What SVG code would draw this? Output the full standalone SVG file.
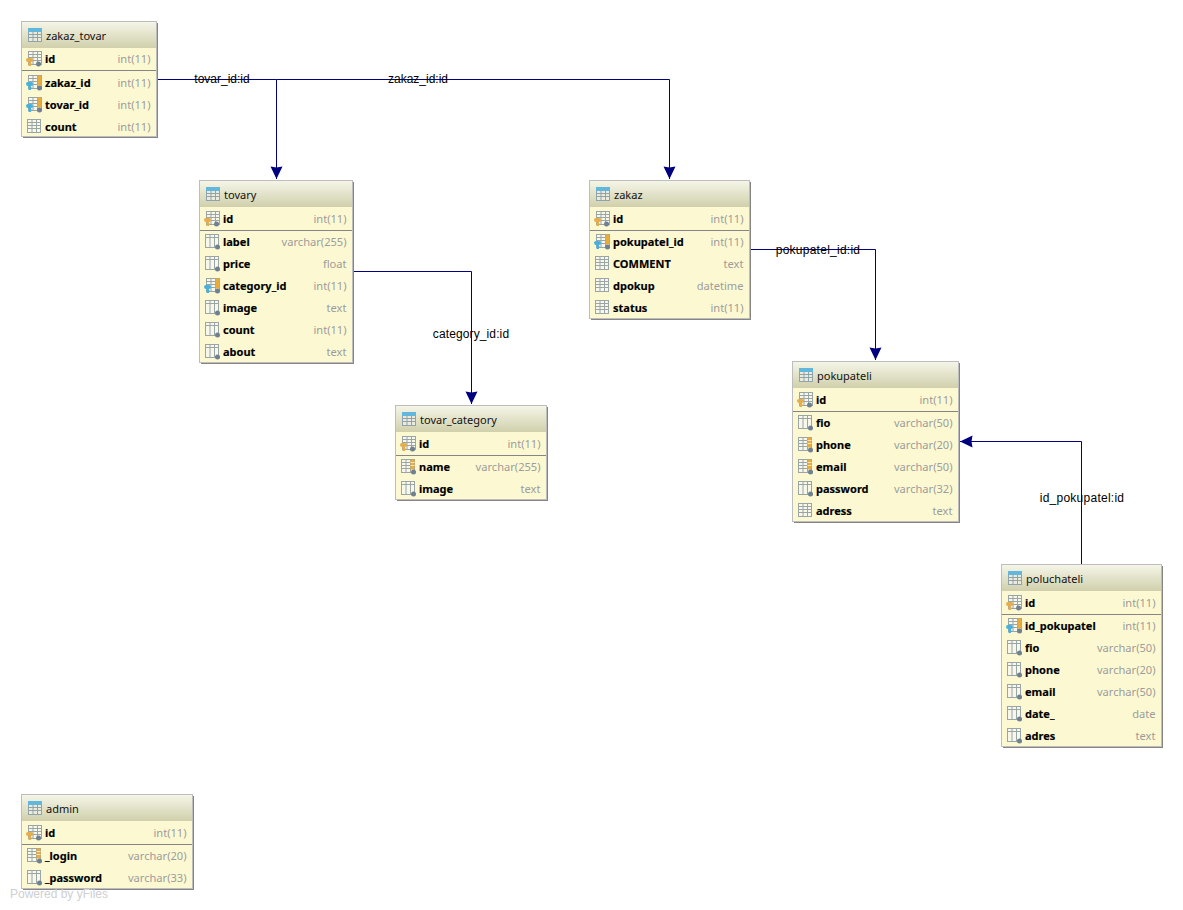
<svg xmlns="http://www.w3.org/2000/svg" width="1183" height="910" viewBox="0 0 1183 910">
<style>
text{font-family:"Noto Sans","DejaVu Sans",sans-serif;font-size:11px}
.box{fill:#fcf9d2;stroke:#bdbdbd;stroke-width:1}
.shadow{fill:#858585}
.head{fill:url(#headGrad)}
.sep{stroke:#858585;stroke-width:1}
.title{fill:#111;font-size:11px}
.col{fill:#000;font-weight:700;stroke:#000;stroke-width:.15}
.type{fill:#9c9c9c;text-anchor:end;font-size:11.1px}
.edge{fill:none;stroke:#000080;stroke-width:1;marker-end:url(#arrow)}
.plain{fill:none;stroke:#000080;stroke-width:1}
.lbl{font-family:"Liberation Sans",Arial,sans-serif;font-size:12px;fill:#000;text-anchor:middle}
.wide{letter-spacing:.25px}
.mid{letter-spacing:.12px}
.brand{font-family:"Liberation Sans",Arial,sans-serif;font-size:12px;fill:#cfcfcf}
</style>
<defs>
<linearGradient id="headGrad" x1="0" y1="0" x2="0" y2="1"><stop offset="0" stop-color="#f5f5e8"/><stop offset="1" stop-color="#d0d0ac"/></linearGradient>
<marker id="arrow" markerUnits="userSpaceOnUse" markerWidth="14" markerHeight="14" refX="13" refY="7" orient="auto"><path d="M0.5 1L13 7L0.5 13L1.5 7Z" fill="#000080"/></marker>
<!-- column grid, origin at the row centre-left -->
<g id="grid"><rect x="0.5" y="-7.5" width="13" height="13" fill="#f8f8ea" stroke="#9aa5a6"/><path d="M0.5 -4.5H13.5M0.5 -1.5H13.5M0.5 1.5H13.5M5 -7.5V5.5M9.5 -7.5V5.5" stroke="#9aa5a6" fill="none"/></g>
<g id="gridOpen"><rect x="0.5" y="-7.5" width="13" height="13" fill="#f8f8ea" stroke="#9aa5a6"/><path d="M0.5 -4.5H13.5M5 -7.5V5.5M9.5 -7.5V5.5" stroke="#9aa5a6" fill="none"/></g>
<g id="gridHead"><rect x="0.5" y="-6.5" width="13" height="13" fill="#eceadb" stroke="#8fa3ab"/><rect x="0" y="-7" width="14" height="4" fill="#62b8dc"/><path d="M0.5 -0.5H13.5M0.5 2.5H13.5M5 -3V6.5M9.5 -3V6.5" stroke="#8fa3ab" fill="none"/></g>
<circle id="dot" cx="12.5" cy="5" r="2.5" fill="#6f8090"/>
<path id="keyShape" d="M0 0.5Q0 -1 2 -1H5Q7 -1 7 1Q7 3 5 3V4.5H6V5.5H5V7H2.5V3H2Q0 3 0 0.5Z"/>
<g id="col"><use href="#gridOpen"/><use href="#dot"/></g>
<g id="idx"><use href="#grid"/><rect x="9.5" y="-7.5" width="4" height="10" fill="#e8ab3c"/><path d="M9.5 -4.5H13.5M9.5 -1.5H13.5" stroke="#fbe8b8"/><use href="#dot"/></g>
<g id="pk"><use href="#grid" x="2"/><use href="#keyShape" fill="#e6ad4c"/><use href="#dot"/></g>
<g id="fk"><use href="#grid" x="2"/><rect x="11.5" y="-7.5" width="4" height="10" fill="#e8ab3c"/><use href="#keyShape" fill="#48b0dc"/><use href="#dot" x="1"/></g>
</defs>
<rect width="1183" height="910" fill="#fff"/>

<g id="connectors">
<path class="plain" d="M157.5 79.5H276.5"/>
<path class="edge" d="M276.5 79.5V179"/>
<path class="edge" d="M276.5 79.5H669.5V179"/>
<path class="edge" d="M353.5 271.5H471.5V404"/>
<path class="edge" d="M750.5 249.5H875.5V360"/>
<path class="edge" d="M1081.5 564V441.5H960"/>
<text class="lbl" x="222" y="83">tovar_id:id</text>
<text class="lbl" x="418" y="83">zakaz_id:id</text>
<text class="lbl mid" x="471" y="338">category_id:id</text>
<text class="lbl wide" x="818" y="254">pokupatel_id:id</text>
<text class="lbl wide" x="1082" y="502">id_pokupatel:id</text>
</g>

<g id="zakaz_tovar">
<rect class="shadow" x="23" y="23" width="135" height="115"/>
<rect class="box" x="21.5" y="21.5" width="135" height="115"/>
<rect class="head" x="22" y="22" width="134" height="26"/>
<use href="#gridHead" x="28" y="35"/><text class="title" x="46" y="40">zakaz_tovar</text>
<use href="#pk" x="26" y="59"/><text class="col" x="45" y="63">id</text><text class="type" x="150.5" y="63">int(11)</text>
<line class="sep" x1="22" y1="70.5" x2="156" y2="70.5"/>
<use href="#fk" x="26" y="83"/><text class="col" x="45" y="87">zakaz_id</text><text class="type" x="150.5" y="87">int(11)</text>
<use href="#fk" x="26" y="105"/><text class="col" x="45" y="109">tovar_id</text><text class="type" x="150.5" y="109">int(11)</text>
<use href="#grid" x="27" y="127"/><text class="col" x="45" y="131">count</text><text class="type" x="150.5" y="131">int(11)</text>
</g>

<g id="tovary">
<rect class="shadow" x="201" y="182" width="153" height="182"/>
<rect class="box" x="199.5" y="180.5" width="153" height="182"/>
<rect class="head" x="200" y="181" width="152" height="26"/>
<use href="#gridHead" x="206" y="194"/><text class="title" x="224" y="199">tovary</text>
<use href="#pk" x="204" y="219"/><text class="col" x="223" y="223">id</text><text class="type" x="346.5" y="223">int(11)</text>
<line class="sep" x1="200" y1="230.5" x2="352" y2="230.5"/>
<use href="#col" x="205" y="242"/><text class="col" x="223" y="246">label</text><text class="type" x="346.5" y="246">varchar(255)</text>
<use href="#col" x="205" y="264"/><text class="col" x="223" y="268">price</text><text class="type" x="346.5" y="268">float</text>
<use href="#fk" x="204" y="286"/><text class="col" x="223" y="290">category_id</text><text class="type" x="346.5" y="290">int(11)</text>
<use href="#col" x="205" y="308"/><text class="col" x="223" y="312">image</text><text class="type" x="346.5" y="312">text</text>
<use href="#col" x="205" y="330"/><text class="col" x="223" y="334">count</text><text class="type" x="346.5" y="334">int(11)</text>
<use href="#col" x="205" y="352"/><text class="col" x="223" y="356">about</text><text class="type" x="346.5" y="356">text</text>
</g>

<g id="zakaz">
<rect class="shadow" x="591" y="182" width="160" height="138"/>
<rect class="box" x="589.5" y="180.5" width="160" height="138"/>
<rect class="head" x="590" y="181" width="159" height="26"/>
<use href="#gridHead" x="596" y="194"/><text class="title" x="614" y="199">zakaz</text>
<use href="#pk" x="594" y="219"/><text class="col" x="613" y="223">id</text><text class="type" x="743.5" y="223">int(11)</text>
<line class="sep" x1="590" y1="230.5" x2="749" y2="230.5"/>
<use href="#fk" x="594" y="242"/><text class="col" x="613" y="246">pokupatel_id</text><text class="type" x="743.5" y="246">int(11)</text>
<use href="#grid" x="595" y="264"/><text class="col" x="613" y="268">COMMENT</text><text class="type" x="743.5" y="268">text</text>
<use href="#grid" x="595" y="286"/><text class="col" x="613" y="290">dpokup</text><text class="type" x="743.5" y="290">datetime</text>
<use href="#grid" x="595" y="308"/><text class="col" x="613" y="312">status</text><text class="type" x="743.5" y="312">int(11)</text>
</g>

<g id="tovar_category">
<rect class="shadow" x="397" y="407" width="151" height="94"/>
<rect class="box" x="395.5" y="405.5" width="151" height="94"/>
<rect class="head" x="396" y="406" width="150" height="26"/>
<use href="#gridHead" x="402" y="419"/><text class="title" x="420" y="424">tovar_category</text>
<use href="#pk" x="400" y="444"/><text class="col" x="419" y="448">id</text><text class="type" x="540.5" y="448">int(11)</text>
<line class="sep" x1="396" y1="455.5" x2="546" y2="455.5"/>
<use href="#idx" x="401" y="467"/><text class="col" x="419" y="471">name</text><text class="type" x="540.5" y="471">varchar(255)</text>
<use href="#col" x="401" y="489"/><text class="col" x="419" y="493">image</text><text class="type" x="540.5" y="493">text</text>
</g>

<g id="pokupateli">
<rect class="shadow" x="794" y="363" width="166" height="160"/>
<rect class="box" x="792.5" y="361.5" width="166" height="160"/>
<rect class="head" x="793" y="362" width="165" height="26"/>
<use href="#gridHead" x="799" y="375"/><text class="title" x="817" y="380">pokupateli</text>
<use href="#pk" x="797" y="400"/><text class="col" x="816" y="404">id</text><text class="type" x="952.5" y="404">int(11)</text>
<line class="sep" x1="793" y1="411.5" x2="958" y2="411.5"/>
<use href="#col" x="798" y="423"/><text class="col" x="816" y="427">fio</text><text class="type" x="952.5" y="427">varchar(50)</text>
<use href="#idx" x="798" y="445"/><text class="col" x="816" y="449">phone</text><text class="type" x="952.5" y="449">varchar(20)</text>
<use href="#idx" x="798" y="467"/><text class="col" x="816" y="471">email</text><text class="type" x="952.5" y="471">varchar(50)</text>
<use href="#col" x="798" y="489"/><text class="col" x="816" y="493">password</text><text class="type" x="952.5" y="493">varchar(32)</text>
<use href="#grid" x="798" y="511"/><text class="col" x="816" y="515">adress</text><text class="type" x="952.5" y="515">text</text>
</g>

<g id="poluchateli">
<rect class="shadow" x="1003" y="566" width="160" height="182"/>
<rect class="box" x="1001.5" y="564.5" width="160" height="182"/>
<rect class="head" x="1002" y="565" width="159" height="26"/>
<use href="#gridHead" x="1008" y="578"/><text class="title" x="1026" y="583">poluchateli</text>
<use href="#pk" x="1006" y="603"/><text class="col" x="1025" y="607">id</text><text class="type" x="1155.5" y="607">int(11)</text>
<line class="sep" x1="1002" y1="614.5" x2="1161" y2="614.5"/>
<use href="#fk" x="1006" y="626"/><text class="col" x="1025" y="630">id_pokupatel</text><text class="type" x="1155.5" y="630">int(11)</text>
<use href="#col" x="1007" y="648"/><text class="col" x="1025" y="652">fio</text><text class="type" x="1155.5" y="652">varchar(50)</text>
<use href="#col" x="1007" y="670"/><text class="col" x="1025" y="674">phone</text><text class="type" x="1155.5" y="674">varchar(20)</text>
<use href="#col" x="1007" y="692"/><text class="col" x="1025" y="696">email</text><text class="type" x="1155.5" y="696">varchar(50)</text>
<use href="#col" x="1007" y="714"/><text class="col" x="1025" y="718">date_</text><text class="type" x="1155.5" y="718">date</text>
<use href="#col" x="1007" y="736"/><text class="col" x="1025" y="740">adres</text><text class="type" x="1155.5" y="740">text</text>
</g>

<g id="admin">
<rect class="shadow" x="23" y="796" width="171" height="94"/>
<rect class="box" x="21.5" y="794.5" width="171" height="94"/>
<rect class="head" x="22" y="795" width="170" height="26"/>
<use href="#gridHead" x="28" y="808"/><text class="title" x="46" y="813">admin</text>
<use href="#pk" x="26" y="833"/><text class="col" x="45" y="837">id</text><text class="type" x="186.5" y="837">int(11)</text>
<line class="sep" x1="22" y1="844.5" x2="192" y2="844.5"/>
<use href="#idx" x="27" y="856"/><text class="col" x="45" y="860">_login</text><text class="type" x="186.5" y="860">varchar(20)</text>
<use href="#col" x="27" y="878"/><text class="col" x="45" y="882">_password</text><text class="type" x="186.5" y="882">varchar(33)</text>
</g>

<text class="brand" x="10" y="898">Powered by yFiles</text>
</svg>
